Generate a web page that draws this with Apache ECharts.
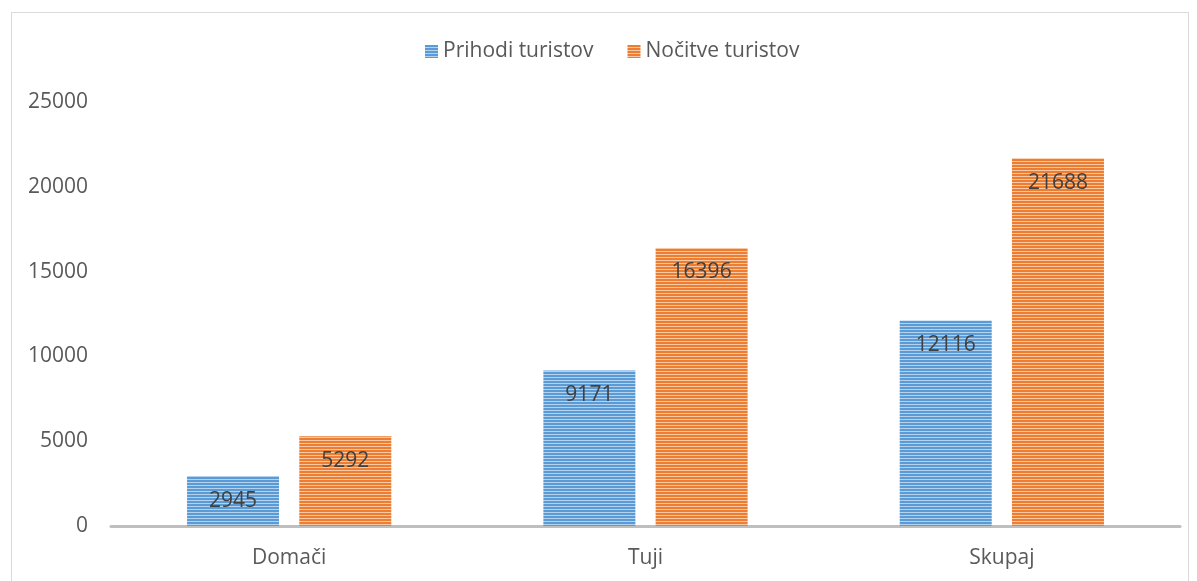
<!DOCTYPE html>
<html>
<head>
<meta charset="utf-8">
<script src="https://cdn.jsdelivr.net/npm/echarts@6/dist/echarts.min.js"></script>
<style>
  html, body { margin: 0; padding: 0; background: #fff; }
  #frame { position: absolute; left: 11px; top: 12px; width: 1178px; height: 580px; border: 1px solid #d9d9d9; box-sizing: border-box; }
  #chart { position: absolute; left: 0; top: 0; width: 1197px; height: 581px; }
</style>
</head>
<body>
<div id="frame"></div>
<div id="chart"></div>
<script>
const categories = ['Domači', 'Tuji', 'Skupaj']
const seriesNames = ['Prihodi turistov', 'Nočitve turistov']
const arrivals = [2945, 9171, 12116]
const nights = [5292, 16396, 21688]

// horizontal-stripe fill like the office chart
function stripes(dark, light) {
  const c = document.createElement('canvas')
  c.width = 6
  c.height = 3
  const ctx = c.getContext('2d')
  ctx.fillStyle = dark
  ctx.fillRect(0, 0, 6, 3)
  ctx.fillStyle = light
  ctx.fillRect(0, 2, 6, 1)
  return { image: c, repeat: 'repeat' }
}

const labelStyle = {
  show: true,
  position: 'insideTop',
  distance: 14,
  color: '#404040',
  fontSize: 21,
  fontFamily: 'Open Sans, sans-serif'
}

const chart = echarts.init(document.getElementById('chart'), null, { renderer: 'canvas' })
chart.setOption({
  animation: false,
  backgroundColor: 'transparent',
  textStyle: { fontFamily: 'Open Sans, sans-serif' },
  legend: {
    top: 36,
    left: 420,
    icon: 'rect',
    itemWidth: 13,
    itemHeight: 13,
    itemGap: 34,
    textStyle: { color: '#595959', fontSize: 21 },
    data: seriesNames
  },
  grid: { left: 111, right: 17, top: 102, bottom: 55 },
  xAxis: {
    type: 'category',
    data: categories,
    axisLine: { lineStyle: { color: '#bfbfbf', width: 3 } },
    axisTick: { show: false },
    axisLabel: { color: '#595959', fontSize: 21, margin: 22 }
  },
  yAxis: {
    type: 'value',
    min: 0,
    max: 25000,
    interval: 5000,
    axisLine: { show: false },
    axisTick: { show: false },
    splitLine: { show: false },
    axisLabel: { color: '#595959', fontSize: 21, margin: 23, formatter: v => String(v) }
  },
  series: [
    {
      name: seriesNames[0],
      type: 'bar',
      data: arrivals,
      barWidth: 92,
      barGap: '22%',
      itemStyle: { color: stripes('#5b9bd5', '#b4d1ee') },
      label: labelStyle
    },
    {
      name: seriesNames[1],
      type: 'bar',
      data: nights,
      barWidth: 92,
      barGap: '22%',
      itemStyle: { color: stripes('#ed7d31', '#f8c7a3') },
      label: labelStyle
    }
  ]
})
</script>
</body>
</html>
